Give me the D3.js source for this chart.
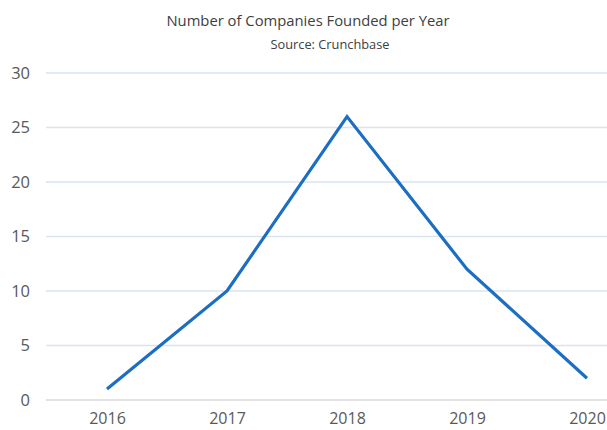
<!DOCTYPE html>
<html><head><meta charset="utf-8">
<script src="https://cdn.jsdelivr.net/npm/d3@7"></script>
<style>body{margin:0;background:#fff;overflow:hidden}</style>
</head><body>
<svg id="c" width="607" height="430"></svg>
<script>
const years = ["2016","2017","2018","2019","2020"];
const counts = [1, 10, 26, 12, 2];
const yTicks = [0,5,10,15,20,25,30];
const title = "Number of Companies Founded per Year";
const subtitle = "Source: Crunchbase";

const svg = d3.select("#c");
const font = "'Open Sans', sans-serif";
const x = d3.scalePoint().domain(years).range([107, 587]);
const y = d3.scaleLinear().domain([0, 30]).range([400, 73]);

svg.append("text").attr("x", 308).attr("y", 26).attr("text-anchor","middle")
  .attr("font-family", font).attr("font-size", 14.8).attr("fill","#404040").text(title);
svg.append("text").attr("x", 330).attr("y", 49).attr("text-anchor","middle")
  .attr("font-family", font).attr("font-size", 12.8).attr("fill","#404040").text(subtitle);

const grid = svg.append("g");
grid.selectAll("line").data(yTicks).join("line")
  .attr("x1", 46).attr("x2", 607)
  .attr("y1", d => y(d)).attr("y2", d => y(d))
  .attr("stroke", d => d === 0 ? "#d9d9d9" : "#dbe3ee").attr("stroke-width", 1.3);

const yAxis = d3.axisLeft(y).tickValues(yTicks).tickSize(0).tickPadding(0);
const ya = svg.append("g").attr("transform","translate(30,0)").call(yAxis);
ya.select(".domain").remove();
ya.selectAll("text").attr("font-family", font).attr("font-size", 16.5).attr("fill","#595959");

const xAxis = d3.axisBottom(x).tickSize(0).tickPadding(0);
const xa = svg.append("g").attr("transform","translate(0,413)").call(xAxis);
xa.select(".domain").remove();
xa.selectAll("text").attr("font-family", font).attr("font-size", 16).attr("fill","#595959");

const line = d3.line().x((d,i) => x(years[i])).y(d => y(d));
svg.append("path").datum(counts).attr("d", line)
  .attr("fill","none").attr("stroke","#1b6ec2").attr("stroke-width", 3.2)
  .attr("stroke-linejoin","miter").attr("stroke-linecap","butt");
</script>
</body></html>
